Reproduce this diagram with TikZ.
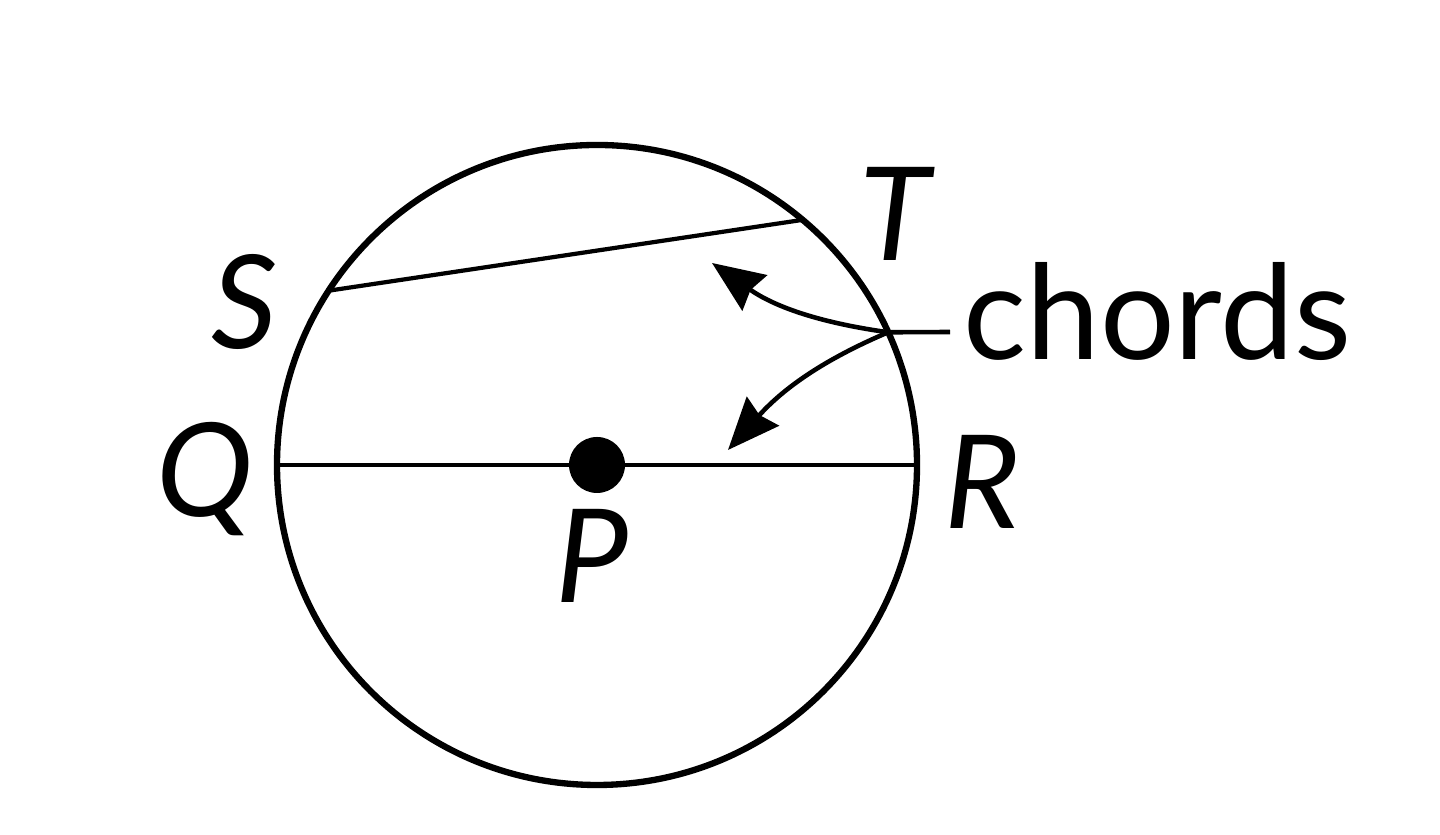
\documentclass[tikz,border=0pt]{standalone}
\usepackage{fontspec}
\setmainfont{Lato}
\usetikzlibrary{arrows.meta}
\tikzset{>={Stealth[length=5.2mm,width=4.3mm,inset=0.5mm]}}

\begin{document}
\begin{tikzpicture}[scale=1,
    lbl/.style={font=\fontsize{37}{37}\selectfont\itshape, inner sep=0pt},
    word/.style={font=\fontsize{37.5}{37.5}\selectfont, inner sep=0pt}]
      \useasboundingbox (0,0) rectangle (14.4,8.35);
      \coordinate (P) at (5.97,3.70);
      \coordinate (Q) at ([shift={(180:3.2)}]P);
      \coordinate (R) at ([shift={(0:3.2)}]P);
      \coordinate (S) at ([shift={(147:3.2)}]P);
      \coordinate (T) at ([shift={(50:3.2)}]P);
      \coordinate (J) at ([shift={(24.5:3.2)}]P);
      \coordinate (e) at (9.50,5.03);
      \coordinate (up) at (7.12,5.72);
      \coordinate (dn) at (7.28,3.85);
        \draw[line width=1.8pt] (P) circle (3.2);
        \draw[line width=1.2pt] (S)--(T);
        \draw[line width=1.3pt] (Q)--(R);
        \fill (P) circle (0.28);
      \draw[line width=1.3pt] (e)--(J);
      \draw[line width=1.3pt,->] (J) to[out=172,in=-35] (up);
      \draw[line width=1.3pt,->] (J) to[out=203,in=48] (dn);
      \node[lbl] at (2.45,5.33)   (s) {S};
      \node[lbl] at (2.05,3.56)   (q) {Q};
      \node[lbl] at (5.92,2.79)   (p) {P};
      \node[lbl] at (8.95,6.21)   (t) {T};
      \node[lbl] at (9.82,3.53)   (r) {R};
      \node[word,anchor=base west] at (9.63,4.75)   (c) {chords};
       \end{tikzpicture}
\end{document}
